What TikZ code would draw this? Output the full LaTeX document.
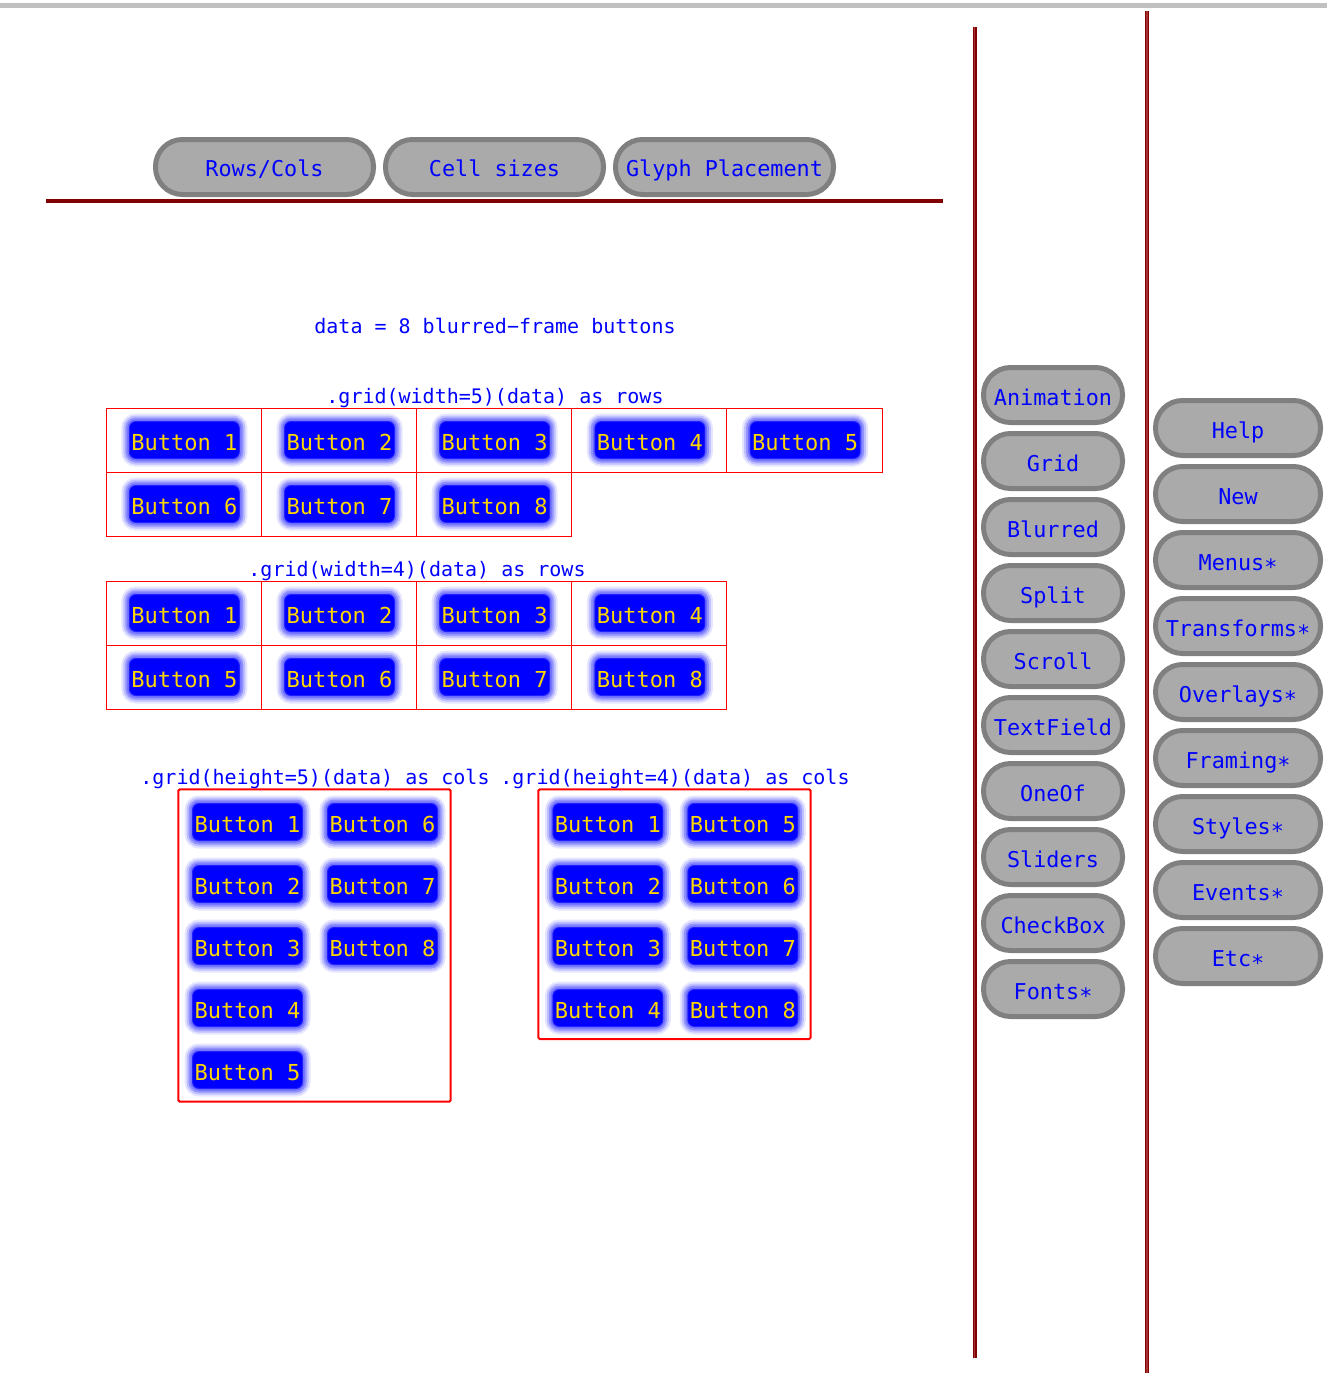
\documentclass[tikz,border=0pt]{standalone}
\usepackage{fontspec}
\newfontfamily\mono{DejaVu Sans Mono}
\definecolor{pillgray}{HTML}{808080}
\definecolor{pillfill}{HTML}{AAAAAA}
\definecolor{btngold}{HTML}{FFD700}
\definecolor{rulered}{HTML}{800000}
\definecolor{rulelight}{HTML}{A83030}
\definecolor{topgray}{HTML}{C0C0C0}
\tikzset{
  pill/.style={draw=pillgray, fill=pillfill, line width=5pt, rounded corners=27pt,
    minimum height=55pt, inner sep=0pt, text=blue, font=\mono\fontsize{21.8}{26}\selectfont,
    text height=21.5pt, text depth=0pt},
  tabpill/.style={pill, minimum width=218pt, text height=18.5pt},
  sideA/.style={pill, minimum width=139pt},
  sideB/.style={pill, minimum width=165pt},
  bbtn/.style={fill=blue, rounded corners=7pt, minimum width=111pt, minimum height=38pt,
    inner sep=0pt, text=btngold, font=\mono\fontsize{22}{26}\selectfont,
    text height=20pt, text depth=0pt,
    preaction={draw=blue, line width=15pt, opacity=0.10},
    preaction={draw=blue, line width=11pt, opacity=0.16},
    preaction={draw=blue, line width=7pt, opacity=0.24},
    preaction={draw=blue, line width=3pt, opacity=0.32},
    postaction={draw=white, line width=2pt, opacity=0.12}},
  lbl/.style={text=blue, inner sep=0pt, anchor=base, font=\mono\fontsize{20}{24}\selectfont},
  cellbox/.style={draw=red, line width=1pt},
  panelbox/.style={draw=red, line width=2pt, rounded corners=1.5pt},
  vrule/.style={draw=rulered, line width=4pt},
  vrulein/.style={draw=rulelight, line width=1.2pt},
}
\begin{document}
\begin{tikzpicture}[x=1pt,y=-1pt]
\useasboundingbox (0,0) rectangle (1327,1373);
% top gray line
\coordinate (tl) at (0,5.3);
\coordinate (tr) at (1327,5.3);
\draw[topgray, line width=5pt] (tl) -- (tr);
% tabs
\node[tabpill] (tab1) at (264.5,167) {Rows/Cols};
\node[tabpill] (tab2) at (494.5,167) {Cell sizes};
\node[tabpill] (tab3) at (724.5,167) {Glyph Placement};
\coordinate (hl) at (46,201.3);
\coordinate (hr) at (943,201.3);
\draw[rulered, line width=4pt] (hl) -- (hr);
% vertical rules
\coordinate (v1t) at (974.8,27);
\coordinate (v1b) at (974.8,1357.5);
\coordinate (v2t) at (1147,11);
\coordinate (v2b) at (1147,1373);
\draw[vrule] (v1t) -- (v1b);
\draw[vrulein] (v1t) -- (v1b);
\draw[vrule] (v2t) -- (v2b);
\draw[vrulein] (v2t) -- (v2b);
% labels
\node[lbl] (title) at (495,333.3) {data = 8 blurred−frame buttons};
\node[lbl] (l5) at (495,403) {.grid(width=5)(data) as rows};
\node[lbl] (l4) at (417,576) {.grid(width=4)(data) as rows};
\node[lbl] (h5) at (315,784) {.grid(height=5)(data) as cols};
\node[lbl] (h4) at (675,784) {.grid(height=4)(data) as cols};
% width=5 grid cells
\foreach \i in {1,...,8}{
  \pgfmathtruncatemacro{\c}{mod(\i-1,5)}
  \pgfmathtruncatemacro{\r}{(\i-1)/5}
  \draw[cellbox] (106+155.2*\c,408+64*\r) rectangle (261.2+155.2*\c,472+64*\r);
}
\foreach \i in {1,...,8}{
  \pgfmathtruncatemacro{\c}{mod(\i-1,5)}
  \pgfmathtruncatemacro{\r}{(\i-1)/5}
  \node[bbtn] (wa\i) at (184.3+155.2*\c,440+64*\r) {Button \i};
}
% width=4 grid cells
\foreach \i in {1,...,8}{
  \pgfmathtruncatemacro{\c}{mod(\i-1,4)}
  \pgfmathtruncatemacro{\r}{(\i-1)/4}
  \draw[cellbox] (106+155.2*\c,581+64*\r) rectangle (261.2+155.2*\c,645+64*\r);
}
\foreach \i in {1,...,8}{
  \pgfmathtruncatemacro{\c}{mod(\i-1,4)}
  \pgfmathtruncatemacro{\r}{(\i-1)/4}
  \node[bbtn] (wb\i) at (184.3+155.2*\c,613+64*\r) {Button \i};
}
% height=5 panel
\draw[panelbox] (178.3,789.3) rectangle (450.7,1101.7);
\foreach \i in {1,...,8}{
  \pgfmathtruncatemacro{\c}{(\i-1)/5}
  \pgfmathtruncatemacro{\r}{mod(\i-1,5)}
  \node[bbtn] (ha\i) at (247.5+135*\c,822+62*\r) {Button \i};
}
% height=4 panel
\draw[panelbox] (538.3,789.3) rectangle (810.7,1039);
\foreach \i in {1,...,8}{
  \pgfmathtruncatemacro{\c}{(\i-1)/4}
  \pgfmathtruncatemacro{\r}{mod(\i-1,4)}
  \node[bbtn] (hb\i) at (607.8+135*\c,822+62*\r) {Button \i};
}
% side column A
\node[sideA] (sa1) at (1053,395) {Animation};
\node[sideA] (sa2) at (1053,461) {Grid};
\node[sideA] (sa3) at (1053,527) {Blurred};
\node[sideA] (sa4) at (1053,593) {Split};
\node[sideA] (sa5) at (1053,659) {Scroll};
\node[sideA] (sa6) at (1053,725) {TextField};
\node[sideA] (sa7) at (1053,791) {OneOf};
\node[sideA] (sa8) at (1053,857) {Sliders};
\node[sideA] (sa9) at (1053,923) {CheckBox};
\node[sideA] (sa10) at (1053,989) {Fonts∗};
% side column B
\node[sideB] (sb1) at (1238,428) {Help};
\node[sideB] (sb2) at (1238,494) {New};
\node[sideB] (sb3) at (1238,560) {Menus∗};
\node[sideB] (sb4) at (1238,626) {Transforms∗};
\node[sideB] (sb5) at (1238,692) {Overlays∗};
\node[sideB] (sb6) at (1238,758) {Framing∗};
\node[sideB] (sb7) at (1238,824) {Styles∗};
\node[sideB] (sb8) at (1238,890) {Events∗};
\node[sideB] (sb9) at (1238,956) {Etc∗};
\end{tikzpicture}
\end{document}
